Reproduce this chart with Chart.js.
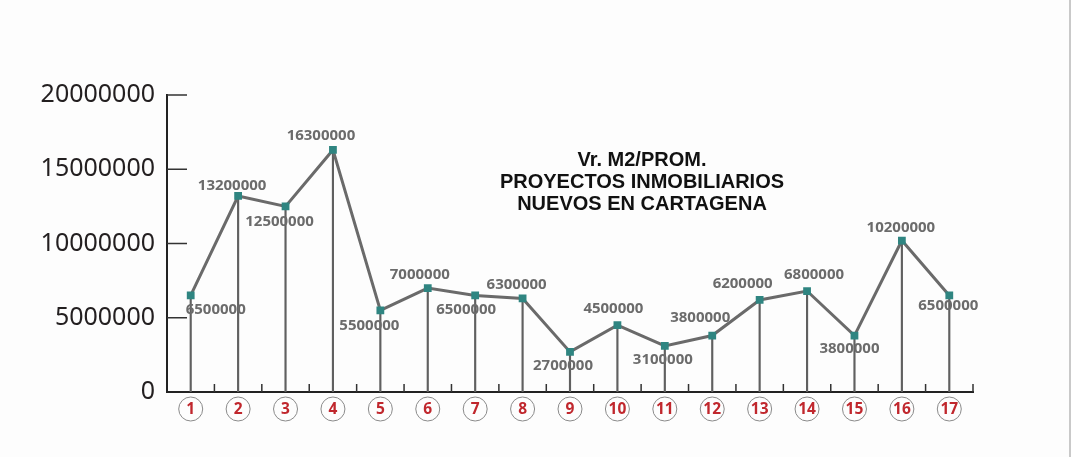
<!DOCTYPE html>
<html>
<head>
<meta charset="utf-8">
<script src="https://cdn.jsdelivr.net/npm/chart.js@4/dist/chart.umd.min.js"></script>
<style>
  html, body { margin: 0; padding: 0; background: #fdfdfd; }
  #wrap { position: relative; width: 1071px; height: 457px; }
  #edge { position: absolute; right: 0; top: 0; width: 2px; height: 457px; background: #c9c9c9; }
  #title {
    position: absolute; left: 442px; top: 148px; width: 400px;
    text-align: center; font-family: "Liberation Sans", Arial, sans-serif;
    font-weight: bold; font-size: 20px; line-height: 22px; color: #111;
  }
</style>
</head>
<body>
<div id="wrap">
  <canvas id="chart" width="1071" height="457"></canvas>
  <div id="title">Vr. M2/PROM.<br>PROYECTOS INMOBILIARIOS<br>NUEVOS EN CARTAGENA</div>
  <div id="edge"></div>
</div>
<script>
const categories = ["1", "2", "3", "4", "5", "6", "7", "8", "9", "10", "11", "12", "13", "14", "15", "16", "17"];
const pricePerM2 = [6500000, 13200000, 12500000, 16300000, 5500000, 7000000, 6500000, 6300000,
  2700000, 4500000, 3100000, 3800000, 6200000, 6800000, 3800000, 10200000, 6500000];
const yTicks = [0, 5000000, 10000000, 15000000, 20000000];

// where each value label sits relative to its point [dx, dy]
const labelOffsets = [
  [25, 14], [-6, -10], [-6, 15], [-12, -14], [-11, 15], [-8, -13], [-9, 14], [-6, -14],
  [-7, 14], [-4, -16], [-2, 14], [-12, -18], [-17, -16], [7, -16], [-5, 13], [-1, -13], [-1, 10]
];

// inward ticks on both axes
const axisTicks = {
  id: "axisTicks",
  afterDraw(chart) {
    const { ctx, chartArea, scales } = chart;
    const x = scales.x, y = scales.y;
    ctx.save();
    ctx.strokeStyle = "#333";
    ctx.lineWidth = 1.5;
    ctx.beginPath();
    yTicks.forEach(v => {
      if (v === 0) return;
      const py = y.getPixelForValue(v);
      ctx.moveTo(chartArea.left, py);
      ctx.lineTo(chartArea.left + 20, py);
    });
    for (let i = 0; i < categories.length; i++) {
      const px = x.getPixelForValue(i) + (x.getPixelForValue(1) - x.getPixelForValue(0)) / 2;
      ctx.moveTo(px, chartArea.bottom);
      ctx.lineTo(px, chartArea.bottom - 8);
    }
    ctx.stroke();

    // circles round the category numbers
    ctx.strokeStyle = "#8a8a8a";
    ctx.lineWidth = 1;
    categories.forEach((c, i) => {
      ctx.beginPath();
      ctx.arc(x.getPixelForTick(i), chartArea.bottom + 17, 12, 0, Math.PI * 2);
      ctx.stroke();
    });
    ctx.restore();
  }
};

const pointLabels = {
  id: "pointLabels",
  afterDatasetsDraw(chart, args, opts) {
    const { ctx } = chart;
    const meta = chart.getDatasetMeta(1);
    ctx.save();
    ctx.font = "bold 15px 'Open Sans'";
    ctx.fillStyle = "#6b6b6b";
    ctx.textAlign = "center";
    ctx.textBaseline = "middle";
    meta.data.forEach((pt, i) => {
      const off = opts.offsets[i];
      ctx.fillText(String(pricePerM2[i]), pt.x + off[0], pt.y + off[1]);
    });
    ctx.restore();
  }
};

new Chart(document.getElementById("chart"), {
  type: "line",
  data: {
    labels: categories,
    datasets: [
      {
        type: "bar",
        data: pricePerM2,
        backgroundColor: "#606060",
        barThickness: 1.5,
        grouped: false,
        order: 2
      },
      {
        type: "line",
        data: pricePerM2,
        borderColor: "#6a6a6a",
        borderWidth: 3,
        tension: 0,
        pointStyle: "rect",
        pointRadius: 5.5,
        pointBorderWidth: 0,
        pointBackgroundColor: "#2f8581",
        order: 1
      }
    ]
  },
  options: {
    responsive: false,
    animation: false,
    events: [],
    layout: { padding: { left: 0, right: 98, top: 95, bottom: 0 } },
    plugins: {
      legend: { display: false },
      tooltip: { enabled: false },
      pointLabels: { offsets: labelOffsets }
    },
    scales: {
      x: {
        offset: true,
        grid: { display: false, drawTicks: false },
        border: { display: true, color: "#222", width: 2 },
        ticks: {
          padding: 8,
          color: "#c0272d",
          font: { family: "'Open Sans'", size: 15.5, weight: "bold" }
        },
        afterFit(scale) { scale.height = 65; }
      },
      y: {
        min: 0,
        max: 20000000,
        grid: { display: false, drawTicks: false },
        border: { display: true, color: "#222", width: 2 },
        ticks: {
          stepSize: 5000000,
          padding: 12,
          color: "#231f20",
          font: { family: "'Noto Sans'", size: 25 },
          callback: v => String(v)
        },
        afterFit(scale) { scale.width = 167; }
      }
    }
  },
  plugins: [axisTicks, pointLabels]
});
</script>
</body>
</html>
